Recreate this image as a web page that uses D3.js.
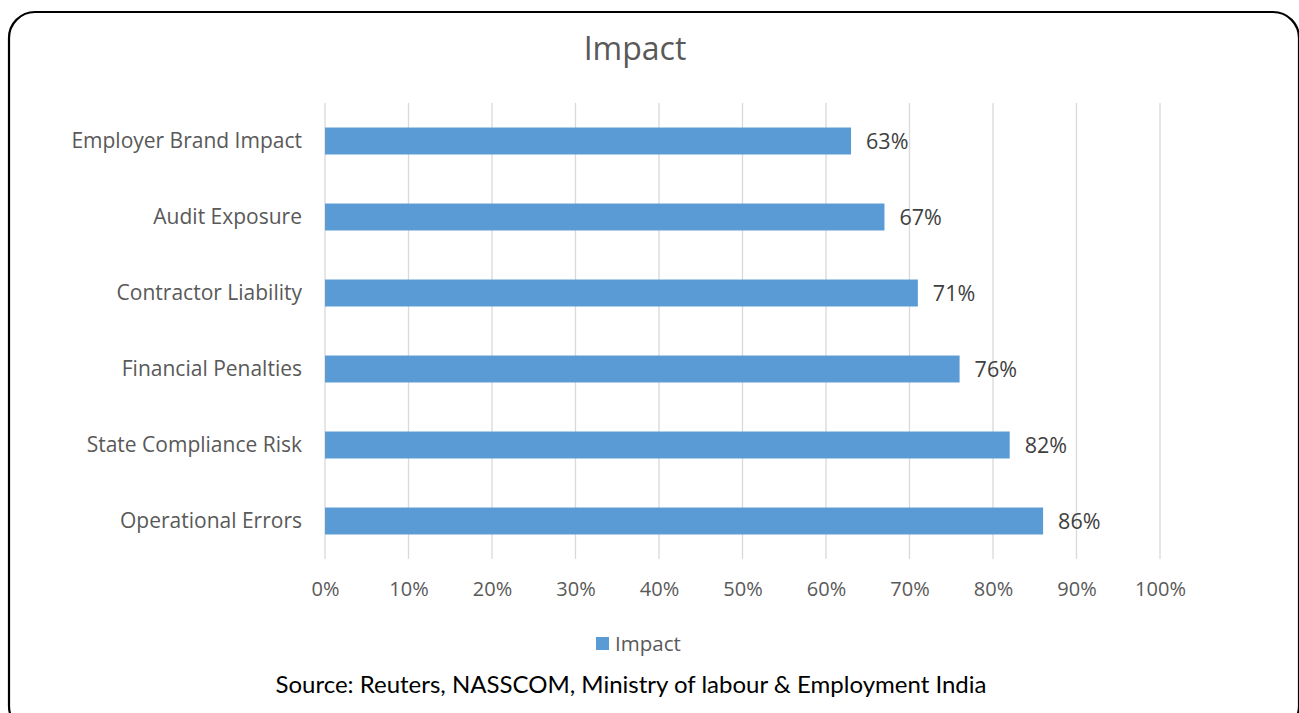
<!DOCTYPE html>
<html><head><meta charset="utf-8">
<script src="https://cdn.jsdelivr.net/npm/d3@7"></script>
<style>html,body{margin:0;padding:0;background:#fff;}svg{display:block;}</style>
</head><body>
<script>
const categories = ["Employer Brand Impact","Audit Exposure","Contractor Liability","Financial Penalties","State Compliance Risk","Operational Errors"];
const values = [0.63,0.67,0.71,0.76,0.82,0.86];
const ticks = [0,0.1,0.2,0.3,0.4,0.5,0.6,0.7,0.8,0.9,1.0];
const seriesName = "Impact";
const title = "Impact";
const source = "Source: Reuters, NASSCOM, Ministry of labour & Employment India";

const W=1299,H=713;
const svg=d3.select("body").append("svg").attr("width",W).attr("height",H);
const font="'Open Sans', Lato, sans-serif";
const lato="Lato, 'Open Sans', sans-serif";

svg.append("rect").attr("x",9).attr("y",12).attr("width",1290).attr("height",720)
  .attr("rx",26).attr("ry",26).attr("fill","#fff").attr("stroke","#000").attr("stroke-width",2.2);

const x=d3.scaleLinear().domain([0,1]).range([325,1160]);
const y=d3.scaleBand().domain(categories).range([103,559]).paddingInner(0.645).paddingOuter(0.3225);

svg.append("text").attr("x",635).attr("y",60).attr("text-anchor","middle")
  .attr("font-family",font).attr("font-size",32).attr("fill","#595959").text(title);

const grid=svg.append("g");
grid.selectAll("line").data(ticks).join("line")
  .attr("x1",d=>x(d)).attr("x2",d=>x(d)).attr("y1",103).attr("y2",559)
  .attr("stroke","#d9d9d9").attr("stroke-width",1.3);

const xAxis=d3.axisBottom(x).tickValues(ticks).tickFormat(d3.format(".0%")).tickSize(0).tickPadding(0);
const gx=svg.append("g").attr("transform","translate(0,596)").call(xAxis);
gx.select(".domain").remove();
gx.selectAll("text").attr("font-family",font).attr("font-size",20).attr("fill","#595959").attr("dy",0);

const yAxis=d3.axisLeft(y).tickSize(0).tickPadding(23);
const gy=svg.append("g").attr("transform","translate(325,0)").call(yAxis);
gy.select(".domain").remove();
gy.selectAll("text").attr("font-family",font).attr("font-size",21).attr("fill","#595959");

svg.append("g").selectAll("rect").data(values).join("rect")
  .attr("x",x(0)).attr("y",(d,i)=>y(categories[i]))
  .attr("width",d=>x(d)-x(0)).attr("height",y.bandwidth()).attr("fill","#5b9bd5");

svg.append("g").selectAll("text").data(values).join("text")
  .attr("x",d=>x(d)+15).attr("y",(d,i)=>y(categories[i])+y.bandwidth()/2).attr("dy","0.35em")
  .attr("font-family",font).attr("font-size",21.5).attr("fill","#404040")
  .text(d=>d3.format(".0%")(d));

const lg=svg.append("g");
lg.append("rect").attr("x",596).attr("y",637).attr("width",13).attr("height",13).attr("fill","#5b9bd5");
lg.append("text").attr("x",615).attr("y",643.5).attr("dy","0.35em").attr("font-family",font)
  .attr("font-size",20.5).attr("fill","#595959").text(seriesName);

svg.append("text").attr("x",631).attr("y",693).attr("text-anchor","middle")
  .attr("font-family",lato).attr("font-size",24).attr("fill","#000").text(source);
</script>
</body></html>
